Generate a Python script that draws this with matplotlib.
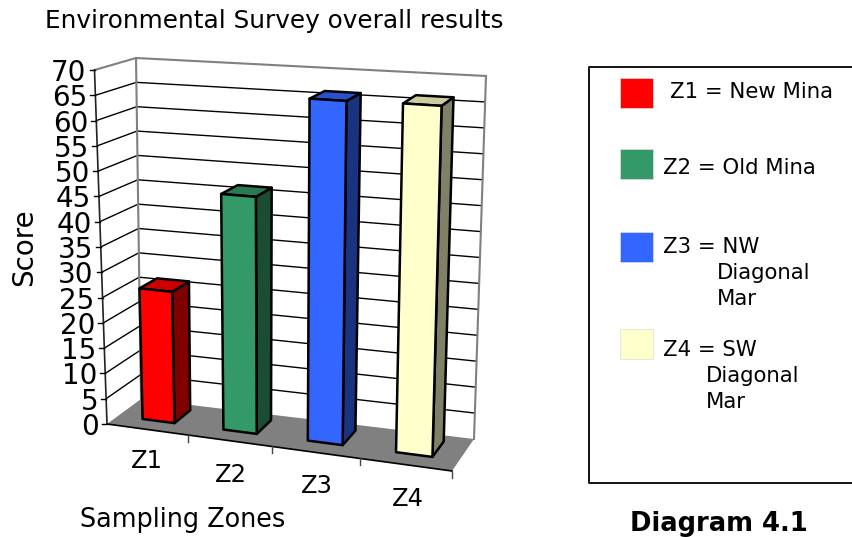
import numpy as np
import matplotlib
matplotlib.use("Agg")
import matplotlib.pyplot as plt
from matplotlib.patches import Polygon, Rectangle

zones = ["Z1", "Z2", "Z3", "Z4"]
scores = [26, 46.2, 66, 66.2]
front_colors = ["#FF0000", "#339966", "#3366FF", "#FFFFCC"]
top_colors = ["#CC0000", "#297A52", "#2952CC", "#CCCCA3"]
side_colors = ["#800000", "#1A4D33", "#1A3380", "#808066"]
y_ticks = list(range(0, 75, 5))

legend_labels = ["Z1 = New Mina", "Z2 = Old Mina", "Z3 = NW", "Z4 = SW"]
legend_extra = [[], [], ["Diagonal", "Mar"], ["Diagonal", "Mar"]]

# corners of the 3d box in pixels: (bottom, top) for each vertical edge
front_left = ((107, 424), (94.5, 70))
front_right = ((452, 471), (463, 93))
back_left = ((141, 399), (136, 58))
back_right = ((474, 439), (486, 76))


def lerp(a, b, t):
    return (a[0] + (b[0] - a[0]) * t, a[1] + (b[1] - a[1]) * t)


def project(u, d, v):
    # u = position along categories (0-4), d = depth (0 front, 1 back), v = score
    x = u / len(zones)
    t = 0.916 * x / (1 - 0.084 * x)  # zones get wider to the right
    h = v / 70
    fl = lerp(*front_left, h)
    fr = lerp(*front_right, h)
    bl = lerp(*back_left, h)
    br = lerp(*back_right, h)
    return lerp(lerp(fl, fr, t), lerp(bl, br, t), d)


fig = plt.figure(figsize=(8.52, 5.37), dpi=100)
ax = fig.add_axes([0, 0, 1, 1])
ax.set_xlim(0, 852)
ax.set_ylim(537, 0)
ax.axis("off")

# floor
ax.add_patch(Polygon([project(0, 0, 0), project(4, 0, 0), project(4, 1, 0), project(0, 1, 0)],
                     fc="#808080", ec="none", zorder=1))
ax.plot(*zip(project(0, 0, 0), project(4, 0, 0)), color="black", lw=1.2, zorder=2)

# grid on left wall and back wall
for v in y_ticks:
    if v == 0:
        continue
    c = "#808080" if v == 70 else "black"
    lw = 1.5 if v == 70 else 1
    ax.plot(*zip(project(0, 0, v), project(0, 1, v), project(4, 1, v)), color=c, lw=lw, zorder=2)

ax.plot(*zip(project(0, 1, 0), project(0, 1, 70)), color="#808080", lw=1.5, zorder=2)
ax.plot(*zip(project(4, 1, 0), project(4, 1, 70)), color="#808080", lw=1.5, zorder=2)
ax.plot(*zip(project(0, 0, 0), project(0, 0, 70)), color="#222222", lw=1.2, zorder=2)

# y ticks
for v in y_ticks:
    x, y = project(0, 0, v)
    ax.plot([x - 5, x], [y, y], color="black", lw=1, zorder=2)
    ax.text(x - 8, y, str(v), ha="right", va="center_baseline", fontsize=20, color="black")

# x ticks
for i in range(1, 5):
    x, y = project(i, 0, 0)
    ax.plot([x, x], [y, y + 7], color="#444444", lw=1, zorder=2)

# bars
for i, val in enumerate(scores):
    u0, u1 = i + 0.31, i + 0.71
    d0, d1 = 0.33, 0.82
    front = [project(u0, d0, 0), project(u1, d0, 0), project(u1, d0, val), project(u0, d0, val)]
    side = [project(u1, d0, 0), project(u1, d1, 0), project(u1, d1, val), project(u1, d0, val)]
    top = [project(u0, d0, val), project(u1, d0, val), project(u1, d1, val), project(u0, d1, val)]
    ax.add_patch(Polygon(side, fc=side_colors[i], ec="black", lw=1.8, joinstyle="round", zorder=4))
    ax.add_patch(Polygon(top, fc=top_colors[i], ec="black", lw=1.8, joinstyle="round", zorder=4))
    ax.add_patch(Polygon(front, fc=front_colors[i], ec="black", lw=1.8, joinstyle="round", zorder=5))

# x labels
label_pos = [(147, 461), (231, 475), (317, 486), (408, 499)]
for z, (x, y) in zip(zones, label_pos):
    ax.text(x, y, z, ha="center", va="center", fontsize=17.5)

ax.text(45, 21, "Environmental Survey overall results", ha="left", va="center", fontsize=17.8)
ax.text(80, 520, "Sampling Zones", ha="left", va="center", fontsize=18.4)
ax.text(24, 247, "Score", ha="center", va="center", rotation=90, fontsize=20)

# legend box, runs off the right side of the picture
ax.plot([852, 588.5, 588.5, 852], [66.5, 66.5, 482.5, 482.5], color="black", lw=1.3, clip_on=True)
swatch_y = [78, 149, 232, 329]
text_x = [670, 663, 663, 663]
text_y = [92, 168, 247, 350]
extra_x = [0, 0, 717, 706]
for i in range(4):
    ax.add_patch(Rectangle((620, swatch_y[i]), 33, 30, fc=front_colors[i], ec="#DDDDDD", lw=0.5))
    ax.text(text_x[i], text_y[i], legend_labels[i], ha="left", va="center", fontsize=15.3)
    for j, line in enumerate(legend_extra[i]):
        ax.text(extra_x[i], text_y[i] + 26 * (j + 1), line, ha="left", va="center", fontsize=15.3)

ax.text(719, 524, "Diagram 4.1", ha="center", va="center", fontsize=18.6, fontweight="bold")

fig.savefig("out.png", dpi=100)
